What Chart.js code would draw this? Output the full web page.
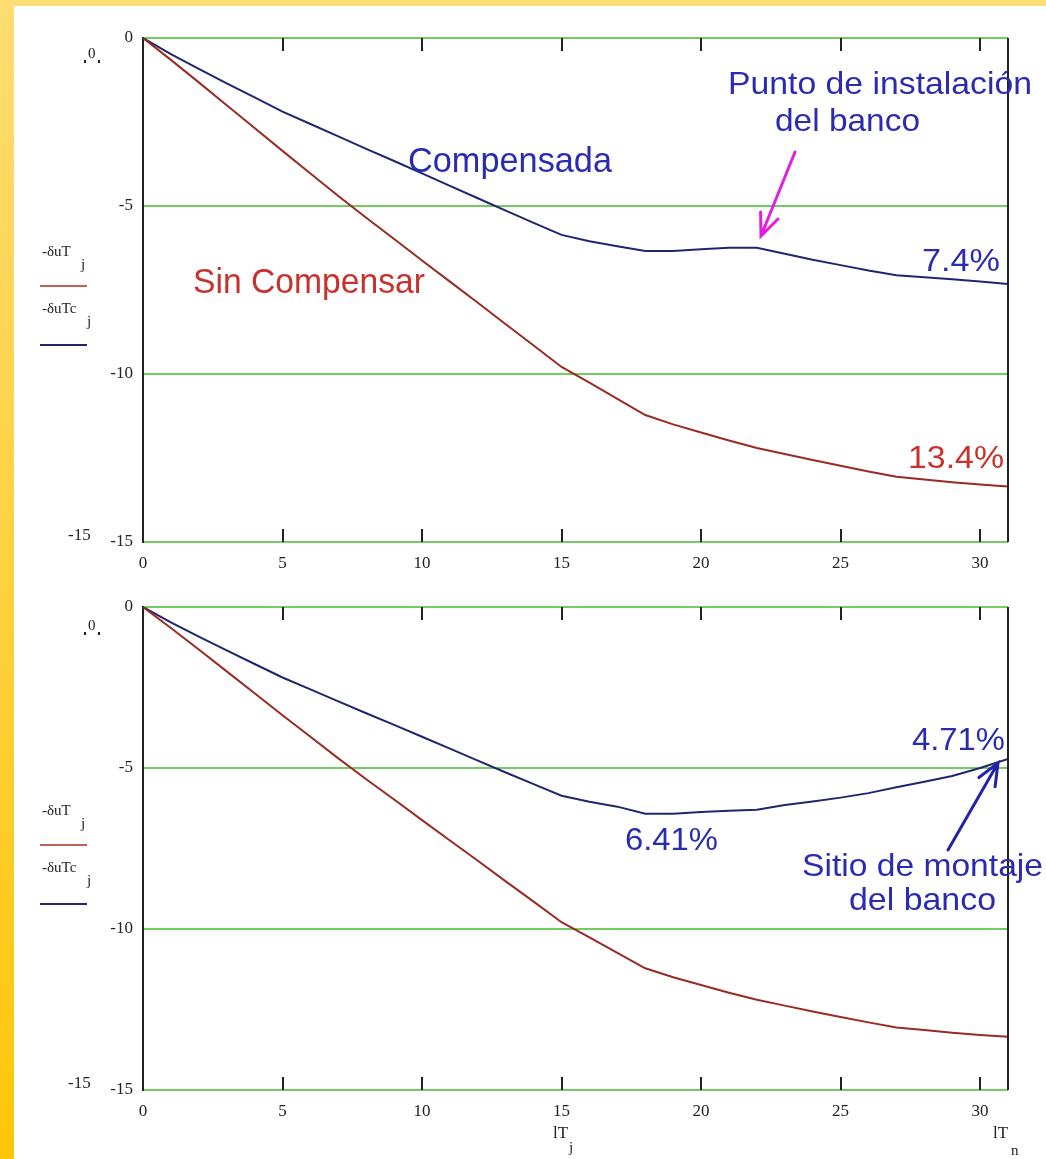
<!DOCTYPE html>
<html>
<head>
<meta charset="utf-8">
<script src="https://cdn.jsdelivr.net/npm/chart.js@4"></script>
<style>
  body { margin: 0; width: 1046px; height: 1159px; overflow: hidden; position: relative;
         background: linear-gradient(#fedd72, #ffc60a); }
  #paper { position: absolute; left: 14px; top: 6px; width: 1032px; height: 1153px; background: #fff; }
  canvas { position: absolute; left: 14px; }
</style>
</head>
<body>
<div id="paper"></div>
<canvas id="chartTop" width="1032" height="574" style="top:6px"></canvas>
<canvas id="chartBottom" width="1032" height="579" style="top:580px"></canvas>
<script>
// distance along the feeder (x) and voltage drop values
var xPos = [0, 1, 2, 3, 4, 5, 6, 7, 8, 9, 10, 11, 12, 13, 14, 15,
            16, 17, 18, 19, 20, 21, 22, 23, 24, 25, 26, 27, 28, 29, 30, 31];
var sinCompensar = [0, -0.65, -1.32, -2.0, -2.68, -3.36, -4.03, -4.7, -5.35, -5.98, -6.62,
                    -7.25, -7.88, -8.52, -9.15, -9.79, -10.26, -10.74, -11.22, -11.5, -11.74,
                    -11.98, -12.2, -12.38, -12.56, -12.73, -12.9, -13.06, -13.14, -13.22, -13.29, -13.35];
var compensadaTop = [0, -0.48, -0.92, -1.35, -1.77, -2.19, -2.56, -2.93, -3.3, -3.66, -4.03,
                     -4.4, -4.77, -5.14, -5.5, -5.86, -6.05, -6.2, -6.34, -6.34, -6.29,
                     -6.24, -6.24, -6.42, -6.6, -6.76, -6.92, -7.06, -7.12, -7.18, -7.25, -7.32];
var compensadaBottom = [0, -0.48, -0.92, -1.35, -1.77, -2.19, -2.56, -2.93, -3.3, -3.66, -4.03,
                        -4.4, -4.77, -5.14, -5.5, -5.86, -6.05, -6.2, -6.42, -6.42, -6.37,
                        -6.33, -6.3, -6.15, -6.04, -5.92, -5.78, -5.6, -5.43, -5.25, -5.0, -4.72];
var xTicks = [0, 5, 10, 15, 20, 25, 30];
var yTicks = [0, -5, -10, -15];

var RED = '#9a2a24', BLUE = '#20266e';
var TXT_BLUE = '#2b2bb0', TXT_RED = '#c8322d';
var decorations = {};

function points(ys) {
  return xPos.map(function (x, i) { return { x: x, y: ys[i] }; });
}

// text squeezed/stretched to fit between left and right (image coords)
function fitText(ctx, off, text, left, right, base, size, color) {
  ctx.save();
  ctx.font = size + 'px "Liberation Sans", Arial, sans-serif';
  ctx.fillStyle = color;
  ctx.textBaseline = 'alphabetic';
  var w = ctx.measureText(text).width;
  ctx.translate(left - off.x, base - off.y);
  ctx.scale((right - left) / w, 1);
  ctx.fillText(text, 0, 0);
  ctx.restore();
}

function arrow(ctx, off, x1, y1, x2, y2, color) {
  var ax = x1 - off.x, ay = y1 - off.y, bx = x2 - off.x, by = y2 - off.y;
  var ang = Math.atan2(by - ay, bx - ax);
  ctx.save();
  ctx.strokeStyle = color;
  ctx.lineWidth = 3;
  ctx.lineCap = 'round';
  ctx.beginPath();
  ctx.moveTo(ax, ay);
  ctx.lineTo(bx, by);
  ctx.moveTo(bx - 24 * Math.cos(ang - 0.4), by - 24 * Math.sin(ang - 0.4));
  ctx.lineTo(bx, by);
  ctx.lineTo(bx - 24 * Math.cos(ang + 0.4), by - 24 * Math.sin(ang + 0.4));
  ctx.stroke();
  ctx.restore();
}

function serif(ctx, off, text, x, y, size) {
  ctx.save();
  ctx.font = size + 'px "Liberation Serif", serif';
  ctx.fillStyle = '#222';
  ctx.textBaseline = 'alphabetic';
  ctx.fillText(text, x - off.x, y - off.y);
  ctx.restore();
}

function legendBlock(ctx, off, y0) {
  // -δuT_j with red line, -δuTc_j with blue line
  serif(ctx, off, '-δuT', 42, y0, 15);
  serif(ctx, off, 'j', 81, y0 + 13, 15);
  ctx.fillStyle = '#c0605a';
  ctx.fillRect(40 - off.x, y0 + 29 - off.y, 47, 2);
  serif(ctx, off, '-δuTc', 42, y0 + 57, 15);
  serif(ctx, off, 'j', 87, y0 + 70, 15);
  ctx.fillStyle = BLUE;
  ctx.fillRect(40 - off.x, y0 + 88 - off.y, 47, 2);
}

function limitZero(ctx, off, y) {
  serif(ctx, off, '0', 88, y, 15);
  ctx.fillStyle = '#222';
  ctx.fillRect(84 - off.x, y + 2 - off.y, 2, 3);
  ctx.fillRect(98 - off.x, y + 2 - off.y, 2, 3);
}

var framePlugin = {
  id: 'frame',
  afterDatasetsDraw: function (chart) {
    var ctx = chart.ctx, a = chart.chartArea, xs = chart.scales.x;
    ctx.save();
    ctx.strokeStyle = '#222';
    ctx.lineWidth = 2;
    ctx.beginPath();
    ctx.moveTo(a.right, a.top);
    ctx.lineTo(a.right, a.bottom);
    xTicks.forEach(function (v) {
      if (v === 0) return;
      var px = Math.round(xs.getPixelForValue(v));
      ctx.moveTo(px, a.top);
      ctx.lineTo(px, a.top + 13);
      ctx.moveTo(px, a.bottom);
      ctx.lineTo(px, a.bottom - 13);
    });
    ctx.stroke();
    ctx.restore();
    var decor = decorations[chart.canvas.id];
    if (decor) decor(ctx);
  }
};

function makeChart(id, comp, xAxisH, padTop) {
  return new Chart(document.getElementById(id), {
    type: 'line',
    data: {
      datasets: [
        { label: '-δuTj', data: points(sinCompensar), borderColor: RED, borderWidth: 2,
          pointRadius: 0, tension: 0, fill: false },
        { label: '-δuTcj', data: points(comp), borderColor: BLUE, borderWidth: 2,
          pointRadius: 0, tension: 0, fill: false }
      ]
    },
    options: {
      responsive: false,
      devicePixelRatio: 1,
      animation: false,
      layout: { padding: { left: 0, right: 38, top: padTop, bottom: 0 } },
      plugins: { legend: { display: false }, tooltip: { enabled: false } },
      scales: {
        x: {
          type: 'linear', min: 0, max: 31,
          afterBuildTicks: function (s) { s.ticks = xTicks.map(function (v) { return { value: v }; }); },
          afterFit: function (s) { s.height = xAxisH; },
          grid: { display: false, drawTicks: false },
          border: { display: false },
          ticks: { color: '#222', padding: 11, maxRotation: 0,
                   font: { family: '"Liberation Serif", serif', size: 17 } }
        },
        y: {
          min: -15, max: 0,
          afterBuildTicks: function (s) { s.ticks = yTicks.map(function (v) { return { value: v }; }); },
          afterFit: function (s) { s.width = 129; },
          grid: { color: '#72cc62', lineWidth: 2, drawTicks: false },
          border: { display: true, color: '#222', width: 2 },
          ticks: { color: '#222', padding: 10,
                   font: { family: '"Liberation Serif", serif', size: 17 } }
        }
      }
    },
    plugins: [framePlugin]
  });
}

decorations.chartTop = function (ctx) {
  var off = { x: 14, y: 6 };
  limitZero(ctx, off, 58);
  serif(ctx, off, '-15', 68, 540, 17);
  legendBlock(ctx, off, 256);
  fitText(ctx, off, 'Compensada', 408, 612, 172, 35, TXT_BLUE);
  fitText(ctx, off, 'Sin Compensar', 193, 425, 293, 35, TXT_RED);
  fitText(ctx, off, 'Punto de instalación', 728, 1032, 94, 32, TXT_BLUE);
  fitText(ctx, off, 'del banco', 775, 920, 131, 32, TXT_BLUE);
  fitText(ctx, off, '7.4%', 922, 1000, 271, 32, TXT_BLUE);
  fitText(ctx, off, '13.4%', 908, 1004, 468, 32, TXT_RED);
  arrow(ctx, off, 795, 152, 761, 236, '#e21fe0');
};

decorations.chartBottom = function (ctx) {
  var off = { x: 14, y: 580 };
  limitZero(ctx, off, 630);
  serif(ctx, off, '-15', 68, 1088, 17);
  legendBlock(ctx, off, 815);
  fitText(ctx, off, '4.71%', 912, 1005, 750, 31, TXT_BLUE);
  fitText(ctx, off, '6.41%', 625, 718, 850, 32, TXT_BLUE);
  fitText(ctx, off, 'Sitio de montaje', 802, 1043, 876, 32, TXT_BLUE);
  fitText(ctx, off, 'del banco', 849, 996, 910, 32, TXT_BLUE);
  arrow(ctx, off, 948, 850, 998, 763, '#2323a8');
  serif(ctx, off, 'lT', 553, 1138, 17);
  serif(ctx, off, 'j', 569, 1152, 15);
  serif(ctx, off, 'lT', 993, 1138, 17);
  serif(ctx, off, 'n', 1011, 1155, 15);
};

makeChart('chartTop', compensadaTop, 38, 32);
makeChart('chartBottom', compensadaBottom, 69, 27);
</script>
</body>
</html>
